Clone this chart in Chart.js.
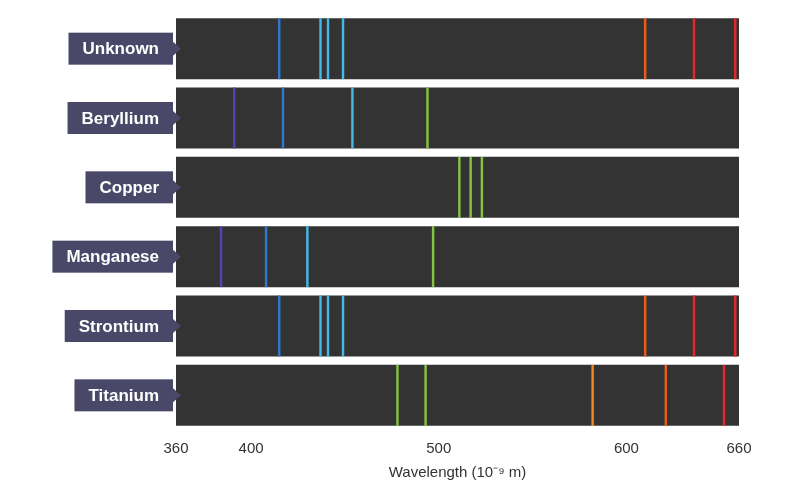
<!DOCTYPE html>
<html><head><meta charset="utf-8">
<script src="https://cdn.jsdelivr.net/npm/chart.js@4"></script>
<style>body{margin:0;background:#fff}#wrap{width:790px;height:496px}</style>
</head><body><div id="wrap"><canvas id="c"></canvas></div>
<script>
// elements and their spectral lines (nm)
const elementos = ['Unknown', 'Beryllium', 'Copper', 'Manganese', 'Strontium', 'Titanium'];
const linhasUnknown = [415, 437, 441, 449, 610, 636, 658];
const linhasBeryllium = [391, 417, 454, 494];
const linhasCopper = [511, 517, 523];
const linhasManganese = [384, 408, 430, 497];
const linhasStrontium = [415, 437, 441, 449, 610, 636, 658];
const linhasTitanium = [478, 493, 582, 621, 652];
const ticksX = [360, 400, 500, 600, 660];
const X_MIN = 360, X_MAX = 660;

const todas = [linhasUnknown, linhasBeryllium, linhasCopper, linhasManganese, linhasStrontium, linhasTitanium];

function corDaOnda(nm) {
  if (nm < 400) return '#5a3fb0';
  if (nm < 425) return '#2f78cc';
  if (nm < 470) return '#45b8e8';
  if (nm < 560) return '#86c440';
  if (nm < 600) return '#f08a1e';
  if (nm < 630) return '#ec5a1e';
  return '#e0282c';
}

const fundo = {
  label: 'fundo',
  data: elementos.map(e => ({ y: e, x: [X_MIN, X_MAX] })),
  backgroundColor: '#333333',
  order: 2
};
const pontos = [];
todas.forEach((lista, i) => lista.forEach(v => pontos.push({ y: elementos[i], x: [v - 0.65, v + 0.65], nm: v })));
const linhas = {
  label: 'linhas',
  data: pontos,
  backgroundColor: pontos.map(p => corDaOnda(p.nm)),
  order: 1
};

const rotulos = {
  id: 'rotulos',
  afterDraw(chart) {
    const ctx = chart.ctx, y = chart.scales.y;
    ctx.save();
    ctx.font = 'bold 17px "Liberation Sans", Arial, sans-serif';
    elementos.forEach((e, i) => {
      const cy = y.getPixelForValue(i);
      const w = ctx.measureText(e).width + 28;
      const right = 173, left = right - w, h = 32;
      ctx.fillStyle = '#4a4868';
      ctx.fillRect(left, cy - h / 2, w, h);
      ctx.beginPath();
      ctx.moveTo(right, cy - 7); ctx.lineTo(right + 8, cy); ctx.lineTo(right, cy + 7);
      ctx.fill();
      ctx.fillStyle = '#fff';
      ctx.textAlign = 'center'; ctx.textBaseline = 'middle';
      ctx.fillText(e, left + w / 2, cy + 1);
    });
    ctx.restore();
  }
};

new Chart(document.getElementById('c'), {
  type: 'bar',
  data: { labels: elementos, datasets: [linhas, fundo] },
  options: {
    indexAxis: 'y',
    responsive: true, maintainAspectRatio: false, animation: false,
    layout: { padding: { left: 176, right: 51, top: 14, bottom: 10 } },
    datasets: { bar: { grouped: false, barPercentage: 0.88, categoryPercentage: 1, borderWidth: 0 } },
    plugins: { legend: { display: false }, tooltip: { enabled: false } },
    scales: {
      y: { display: false },
      x: {
        type: 'linear', min: X_MIN, max: X_MAX,
        afterBuildTicks: s => { s.ticks = ticksX.map(v => ({ value: v })); },
        grid: { display: false },
        border: { display: false },
        ticks: { color: '#333', font: { size: 15, family: '"Liberation Sans", Arial' }, padding: 2 },
        title: { display: true, text: 'Wavelength (10⁻⁹ m)', color: '#333', font: { size: 15, family: '"Liberation Sans", Arial' }, padding: { top: 4 } }
      }
    }
  },
  plugins: [rotulos]
});
</script></body></html>
